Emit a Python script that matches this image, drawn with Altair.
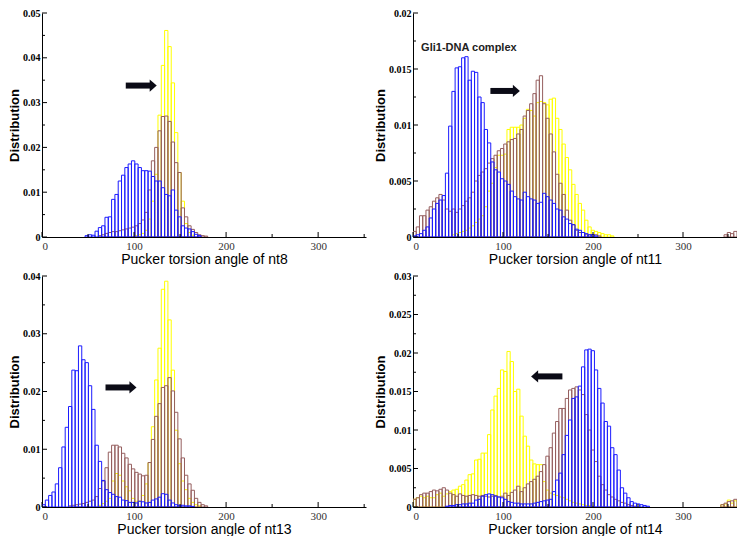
import altair as alt
import pandas as pd

BIN = 3.6  # degrees per histogram bin (100 bins over 0-360)

# ---------------- data (bin start index, heights) ----------------
p1_blue_start = 13
p1_blue = [0.0003, 0.0005, 0.0004, 0.0013, 0.0021, 0.0025, 0.0044, 0.0045, 0.0084, 0.0095,
           0.0125, 0.0138, 0.0155, 0.0163, 0.017, 0.0163, 0.0155, 0.0148, 0.0148, 0.0147,
           0.0135, 0.0125, 0.0125, 0.011, 0.0095, 0.0092, 0.0105, 0.006, 0.0045, 0.0025,
           0.002, 0.0018, 0.0012, 0.0006, 0.0003]
p1_yellow_start = 28
p1_yellow = [0.0003, 0.0005, 0.0008, 0.0015, 0.004, 0.008, 0.014, 0.0272, 0.0383, 0.0461,
             0.0425, 0.0344, 0.0233, 0.0144, 0.008, 0.003, 0.001, 0.0004]
p1_brown_start = 17
p1_brown = [0.0003, 0.0005, 0.0008, 0.001, 0.0012, 0.0012, 0.0014, 0.0016, 0.0018, 0.002,
            0.0022, 0.0025, 0.003, 0.0038, 0.0055, 0.0105, 0.017, 0.02, 0.0237, 0.0269,
            0.027, 0.0258, 0.0212, 0.0166, 0.0144, 0.0065, 0.0045, 0.0025, 0.0017, 0.001,
            0.0005, 0.0003, 0.0002]

p2_blue_start = 0
p2_blue = [0.0001, 0.0002, 0.0003, 0.0006, 0.0009, 0.0017, 0.0025, 0.003, 0.0033, 0.0037,
           0.0057, 0.0099, 0.013, 0.0151, 0.0152, 0.016, 0.0161, 0.014, 0.0148, 0.0147,
           0.0125, 0.012, 0.0096, 0.0084, 0.0067, 0.006, 0.0058, 0.0052, 0.005, 0.0047,
           0.0041, 0.0036, 0.0034, 0.0033, 0.004, 0.0036, 0.0034, 0.0033, 0.003, 0.0031,
           0.0039, 0.0036, 0.0033, 0.003, 0.0025, 0.0024, 0.0018, 0.0016, 0.0012, 0.0011,
           0.0007, 0.0006, 0.0004, 0.0003, 0.0002, 0.0002, 0.0001]
p2_yellow_start = 12
p2_yellow = [0.0002, 0.0003, 0.0004, 0.0005, 0.0006, 0.0008, 0.001, 0.0013, 0.0016, 0.0019,
             0.0027, 0.0041, 0.0048, 0.0062, 0.0073, 0.0073, 0.0074, 0.0096, 0.0098, 0.0098,
             0.0098, 0.01, 0.0106, 0.0114, 0.0113, 0.0108, 0.012, 0.0121, 0.012, 0.0118,
             0.0123, 0.0124, 0.0106, 0.0096, 0.0083, 0.0071, 0.006, 0.0047, 0.0038, 0.003,
             0.0024, 0.0015, 0.0009, 0.0006, 0.0005, 0.0004, 0.0003, 0.0002, 0.0002, 0.0001]
p2_brown_start = 0
p2_brown = [0.0005, 0.0009, 0.0019, 0.0019, 0.0024, 0.0027, 0.0032, 0.0035, 0.0038, 0.0033,
            0.0025, 0.0023, 0.0025, 0.0022, 0.0025, 0.0028, 0.0032, 0.0035, 0.004, 0.005,
            0.0055, 0.0058, 0.0061, 0.0066, 0.007, 0.0073, 0.0077, 0.0079, 0.0083, 0.0085,
            0.0087, 0.0088, 0.0092, 0.0096, 0.0108, 0.0113, 0.0119, 0.0128, 0.014, 0.0144,
            0.0119, 0.0106, 0.0092, 0.0076, 0.0056, 0.0048, 0.0038, 0.0024, 0.0015, 0.0011,
            0.0006, 0.0004, 0.0004, 0.0002, 0.0002, 0.0002, 0.0002, 0.0001]
p2_brown_tail_start = 96
p2_brown_tail = [0.0002, 0.0004, 0.0003, 0.0005]

p3_blue_start = 0
p3_blue = [0.0004, 0.0012, 0.002, 0.0026, 0.004, 0.0068, 0.0104, 0.0138, 0.0174, 0.0237,
           0.0236, 0.0279, 0.0255, 0.025, 0.021, 0.0169, 0.0107, 0.0079, 0.0046, 0.003,
           0.0025, 0.0022, 0.0018, 0.0017, 0.0012, 0.0011, 0.0008, 0.0008, 0.0007, 0.001,
           0.0009, 0.0007, 0.0008, 0.0012, 0.0014, 0.0017, 0.0023, 0.0022, 0.0012, 0.0007,
           0.0004, 0.0003, 0.0003, 0.0002, 0.0002, 0.0001]
p3_yellow_start = 17
p3_yellow = [0.0003, 0.0006, 0.001, 0.0015, 0.0045, 0.0058, 0.0055, 0.0045, 0.0035, 0.0028,
             0.0015, 0.001, 0.001, 0.002, 0.004, 0.0077, 0.0139, 0.022, 0.0275, 0.0377,
             0.0391, 0.0324, 0.0237, 0.0133, 0.0075, 0.0045, 0.003, 0.0015, 0.0008, 0.0004,
             0.0002]
p3_brown_start = 8
p3_brown = [0.0002, 0.0003, 0.0004, 0.0005, 0.0006, 0.0008, 0.001, 0.0012, 0.0018, 0.0032,
            0.0045, 0.0068, 0.0095, 0.0107, 0.0107, 0.0104, 0.0093, 0.0085, 0.0074, 0.0066,
            0.006, 0.0057, 0.0054, 0.0055, 0.0077, 0.0117, 0.0157, 0.0179, 0.0207, 0.021,
            0.0224, 0.0201, 0.0164, 0.0118, 0.0085, 0.0055, 0.004, 0.0029, 0.0015, 0.0008,
            0.0004, 0.0002]

p4_blue_start = 10
p4_blue = [0.0001, 0.0002, 0.0002, 0.0003, 0.0003, 0.0004, 0.0004, 0.0005, 0.0005, 0.0009,
           0.001, 0.0014, 0.0016, 0.0017, 0.0016, 0.0014, 0.0013, 0.0012, 0.001, 0.0007,
           0.0006, 0.0005, 0.0005, 0.0004, 0.0004, 0.0004, 0.0004, 0.0005, 0.0006, 0.0007,
           0.0008, 0.0009, 0.001, 0.002, 0.0035, 0.0044, 0.0068, 0.0093, 0.0113, 0.0141,
           0.0143, 0.0157, 0.0182, 0.0204, 0.0205, 0.0203, 0.0178, 0.0154, 0.0135, 0.0111,
           0.0105, 0.0077, 0.0068, 0.0048, 0.0025, 0.0018, 0.0012, 0.0007, 0.0005, 0.0004,
           0.0003, 0.0002, 0.0001]
p4_yellow_start = 0
p4_yellow = [0.001, 0.0012, 0.0014, 0.0012, 0.0014, 0.0012, 0.0012, 0.0016, 0.0018, 0.0014,
             0.0017, 0.002, 0.0022, 0.0023, 0.0027, 0.0029, 0.0035, 0.0042, 0.0043, 0.0061,
             0.0062, 0.007, 0.007, 0.0094, 0.0126, 0.0144, 0.0154, 0.0178, 0.0176, 0.0202,
             0.0189, 0.015, 0.0153, 0.0118, 0.0092, 0.0079, 0.0061, 0.0056, 0.0055, 0.0055,
             0.0033, 0.0022, 0.0018, 0.0016, 0.0015, 0.0013, 0.0012, 0.001, 0.0008, 0.0006,
             0.0005, 0.0004, 0.0003, 0.0002, 0.0002, 0.0001]
p4_yellow_tail_start = 95
p4_yellow_tail = [0.0003, 0.0004, 0.0009, 0.0005, 0.0008]
p4_brown_start = 0
p4_brown = [0.001, 0.0012, 0.0016, 0.0018, 0.0018, 0.002, 0.0022, 0.0021, 0.0023, 0.0025,
            0.0022, 0.0018, 0.0016, 0.0014, 0.0017, 0.0015, 0.0014, 0.0015, 0.0016, 0.0015,
            0.0014, 0.0015, 0.0014, 0.0013, 0.0014, 0.0015, 0.0013, 0.0014, 0.0018, 0.0015,
            0.0019, 0.0022, 0.0027, 0.002, 0.0025, 0.003, 0.0033, 0.0036, 0.004, 0.0046,
            0.0055, 0.0066, 0.0077, 0.0096, 0.0111, 0.0128, 0.0128, 0.0141, 0.0152, 0.0154,
            0.0156, 0.0152, 0.0146, 0.012, 0.01, 0.0074, 0.0059, 0.004, 0.0029, 0.0022,
            0.0016, 0.0013, 0.001, 0.0008, 0.0006, 0.0005, 0.0003, 0.0002, 0.0001]
p4_brown_tail_start = 95
p4_brown_tail = [0.0003, 0.0005, 0.0007, 0.0008, 0.001]

# panel settings
panel_titles = ["Pucker torsion angle of nt8", "Pucker torsion angle of nt11",
                "Pucker torsion angle of nt13", "Pucker torsion angle of nt14"]
y_max = [0.05, 0.02, 0.04, 0.03]
y_major = [[0, 0.01, 0.02, 0.03, 0.04, 0.05],
           [0, 0.005, 0.01, 0.015, 0.02],
           [0, 0.01, 0.02, 0.03, 0.04],
           [0, 0.005, 0.01, 0.015, 0.02, 0.025, 0.03]]
y_minor = [[0.005, 0.015, 0.025, 0.035, 0.045],
           [0.0025, 0.0075, 0.0125, 0.0175],
           [0.005, 0.015, 0.025, 0.035],
           [0.0025, 0.0075, 0.0125, 0.0175, 0.0225, 0.0275]]
x_max = [352, 360, 352, 360]
x_major = [0, 100, 200, 300]
x_minor = [50, 150, 250, 350]

# arrows: tail, head centre, y, direction
arrow_tail = [91, 86, 69, 166]
arrow_head = [119, 113, 97, 137]
arrow_y = [0.0338, 0.01304, 0.0207, 0.01696]
arrow_dir = ["right", "right", "right", "left"]

label_text = ["", "Gli1-DNA complex", "", ""]
label_x = [0, 9, 0, 0]
label_y = [0, 0.0169, 0, 0]

COLORS = {"yellow": "#ffff00", "brown": "#955e5e", "blue": "#1c1cff"}

series_table = [
    (0, "yellow", p1_yellow_start, p1_yellow),
    (0, "brown", p1_brown_start, p1_brown),
    (0, "blue", p1_blue_start, p1_blue),
    (1, "yellow", p2_yellow_start, p2_yellow),
    (1, "brown", p2_brown_start, p2_brown),
    (1, "brown", p2_brown_tail_start, p2_brown_tail),
    (1, "blue", p2_blue_start, p2_blue),
    (2, "yellow", p3_yellow_start, p3_yellow),
    (2, "brown", p3_brown_start, p3_brown),
    (2, "blue", p3_blue_start, p3_blue),
    (3, "yellow", p4_yellow_start, p4_yellow),
    (3, "yellow", p4_yellow_tail_start, p4_yellow_tail),
    (3, "brown", p4_brown_start, p4_brown),
    (3, "brown", p4_brown_tail_start, p4_brown_tail),
    (3, "blue", p4_blue_start, p4_blue),
]

rows = []
for pid, s, start, vals in series_table:
    for i, v in enumerate(vals):
        x0 = round((start + i) * BIN, 3)
        rows.append({"panel": pid, "series": s, "x0": x0, "x1": round(x0 + BIN, 3), "v": v,
                     "base": 0.0})
df = pd.DataFrame(rows)

SANS = "Liberation Sans"
SERIF = "Liberation Serif"
W = 324
HEIGHTS = [224, 224, 231, 231]


def make_panel(pid):
    H = HEIGHTS[pid]
    xs = alt.Scale(domain=[0, x_max[pid]], nice=False, zero=False)
    ys = alt.Scale(domain=[0, y_max[pid]], nice=False)
    xaxis = alt.Axis(values=x_major, ticks=False, grid=False, title=panel_titles[pid],
                     labelFont=SERIF, labelFontSize=11, labelColor="#333333", labelPadding=3,
                     titleFont=SANS, titleFontSize=14, titleFontWeight="normal",
                     titleColor="black", titlePadding=1, domainColor="black")
    yaxis = alt.Axis(values=y_major[pid], ticks=False, grid=False, title="Distribution",
                     format="~g", labelFont=SERIF, labelFontSize=10, labelFontWeight="bold",
                     labelColor="black", labelPadding=2, titleFont=SANS, titleFontSize=13,
                     titleFontWeight="bold", titleColor="black", titlePadding=1,
                     domainColor="black")

    def X(field):
        return alt.X(field, type="quantitative", scale=xs, axis=xaxis)

    def Y(field):
        return alt.Y(field, type="quantitative", scale=ys, axis=yaxis, stack=None)

    layers = []
    for s in ["yellow", "brown", "blue"]:
        d = df[(df.panel == pid) & (df.series == s)]
        layers.append(
            alt.Chart(d).mark_rect(filled=False, color=COLORS[s], strokeWidth=1, clip=True)
            .encode(x=X("x0"), x2="x1:Q", y=Y("v"), y2="base:Q")
        )
    # inward ticks
    ymaj = pd.DataFrame({"v": y_major[pid]})
    ymin = pd.DataFrame({"v": y_minor[pid]})
    xmaj = pd.DataFrame({"x0": x_major})
    xmin = pd.DataFrame({"x0": x_minor})
    layers.append(alt.Chart(ymaj).mark_rule(color="black").encode(
        y=Y("v"), x=alt.value(0), x2=alt.value(5)))
    layers.append(alt.Chart(ymin).mark_rule(color="black").encode(
        y=Y("v"), x=alt.value(0), x2=alt.value(3)))
    layers.append(alt.Chart(xmaj).mark_rule(color="black").encode(
        x=X("x0"), y=alt.value(H), y2=alt.value(H - 5)))
    layers.append(alt.Chart(xmin).mark_rule(color="black").encode(
        x=X("x0"), y=alt.value(H), y2=alt.value(H - 3)))
    # arrow
    ad = pd.DataFrame({"x0": [arrow_tail[pid]], "xe": [arrow_head[pid]], "v": [arrow_y[pid]]})
    layers.append(alt.Chart(ad).mark_rule(color="#0b0b16", strokeWidth=6, strokeCap="butt").encode(
        x=X("x0"), x2="xe:Q", y=Y("v")))
    shape = "M-0.3,-1L0.85,0L-0.3,1Z" if arrow_dir[pid] == "right" else "M0.3,-1L-0.85,0L0.3,1Z"
    hd = pd.DataFrame({"x0": [arrow_head[pid]], "v": [arrow_y[pid]]})
    layers.append(alt.Chart(hd).mark_point(shape=shape, filled=True, size=150, color="#0b0b16",
                                           opacity=1).encode(x=X("x0"), y=Y("v")))
    if label_text[pid]:
        td = pd.DataFrame({"x0": [label_x[pid]], "v": [label_y[pid]], "t": [label_text[pid]]})
        layers.append(alt.Chart(td).mark_text(align="left", baseline="middle", font=SANS,
                                              fontSize=11, fontWeight="bold", color="#222222").encode(
            x=X("x0"), y=Y("v"), text="t:N"))
    return alt.layer(*layers).properties(width=W, height=H)


top = alt.hconcat(make_panel(0), make_panel(1), spacing=8)
bottom = alt.hconcat(make_panel(2), make_panel(3), spacing=8)
chart = (alt.vconcat(top, bottom, spacing=5)
         .configure(background="white", padding=0)
         .configure_view(stroke=None))

chart.save("out.html", embed_options={"renderer": "svg", "actions": False})
